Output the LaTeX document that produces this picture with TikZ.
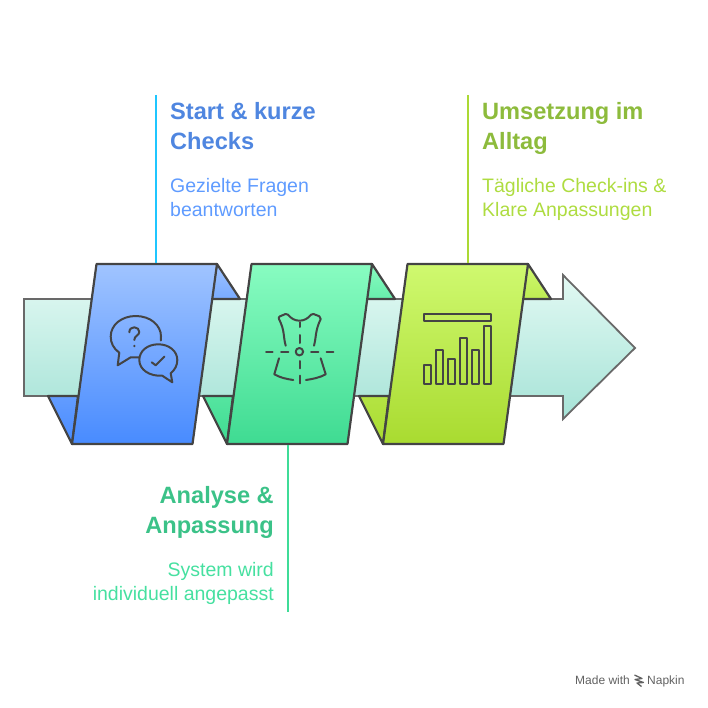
\documentclass[tikz,border=0pt]{standalone}
\usepackage{fontspec}
\setmainfont{Liberation Sans}
\definecolor{inkline}{HTML}{444444}
\definecolor{bandtop}{HTML}{E2F9F3}
\definecolor{bandbot}{HTML}{A6E3D7}
\definecolor{bluetop}{HTML}{A0C4FF}
\definecolor{bluebot}{HTML}{488BFF}
\definecolor{greentop}{HTML}{88FCC1}
\definecolor{greenbot}{HTML}{3FDB92}
\definecolor{limetop}{HTML}{CFF96F}
\definecolor{limebot}{HTML}{A9DB30}
\definecolor{bluehead}{HTML}{4F86E0}
\definecolor{greenhead}{HTML}{3BC288}
\definecolor{limehead}{HTML}{8DBB3C}
\definecolor{bluetext}{HTML}{5F9BFF}
\definecolor{greentext}{HTML}{46E0A0}
\definecolor{limetext}{HTML}{AEDC40}
\definecolor{blueleader}{HTML}{1FC6FF}
\definecolor{greenleader}{HTML}{3FDC98}
\definecolor{limeleader}{HTML}{ABD934}
\newcommand{\panel}[3]{% #1 = left foot x, #2 = top colour, #3 = bottom colour
  \fill[top color=#2, bottom color=#2!55!#3, draw=inkline, line width=2.2pt, line join=round]
    ({#1+145},264) -- ({#1+168},299) -- ({#1+138},299) -- cycle;
  \fill[top color=#2!30!#3, bottom color=#3, draw=inkline, line width=2.2pt, line join=round]
    ({#1-24},396) -- (#1,444) -- ({#1+6},396) -- cycle;
  \fill[top color=#2, bottom color=#3, draw=inkline, line width=2.2pt, line join=round]
    ({#1+24.5},264) -- ({#1+145},264) -- ({#1+120.5},444) -- (#1,444) -- cycle;}
\newcommand{\chartbar}[2]{\draw[icon] (#1,#2) rectangle ({#1+6.7},383.7);}
\tikzset{x=1pt, y=-1pt,
  icon/.style={draw=inkline, line width=2pt, line cap=round, line join=round},
  leader/.style={line width=1.8pt},
  headtext/.style={font=\fontsize{23.6}{30}\selectfont\bfseries, inner sep=0pt},
  subtext/.style={font=\fontsize{19.5}{24}\selectfont, inner sep=0pt},
  foottext/.style={font=\fontsize{12}{14}\selectfont, text=black!62, anchor=base west, inner sep=0pt}}
\begin{document}
\begin{tikzpicture}
\useasboundingbox (0,0) rectangle (708,708);

% ---- band and arrow head
\draw[top color=bandtop, bottom color=bandbot, draw=inkline!80, line width=1.8pt, line join=miter]
  (24,299) -- (563,299) -- (563,275) -- (635,348) -- (563,419) -- (563,396) -- (24,396) -- cycle;

% ---- panels
\panel{72}{bluetop}{bluebot}
\panel{227}{greentop}{greenbot}
\panel{383}{limetop}{limebot}

% ---- leaders
\coordinate (starttop) at (156,95);
\coordinate (startfoot) at (156,263);
\coordinate (analysetop) at (288,445);
\coordinate (analysefoot) at (288,612);
\coordinate (alltagtop) at (468,95);
\coordinate (alltagfoot) at (468,263);
\draw[leader, blueleader] (starttop) -- (startfoot);
\draw[leader, greenleader] (analysetop) -- (analysefoot);
\draw[leader, limeleader] (alltagtop) -- (alltagfoot);

% ---- texts
\node[headtext, text=bluehead, anchor=north west, align=left] (starthead) at (170,102) {Start \& kurze\\Checks};
\node[subtext, text=bluetext, anchor=north west, align=left] (startsub) at (170,178) {Gezielte Fragen\\beantworten};
\node[headtext, text=greenhead, anchor=north east, align=right] (analysehead) at (274,486) {Analyse \&\\Anpassung};
\node[subtext, text=greentext, anchor=north east, align=right] (analysesub) at (274,562) {System wird\\individuell angepasst};
\node[headtext, text=limehead, anchor=north west, align=left] (alltaghead) at (482,102) {Umsetzung im\\Alltag};
\node[subtext, text=limetext, anchor=north west, align=left] (alltagsub) at (482,178) {Tägliche Check-ins \&\\Klare Anpassungen};

% ---- speech bubbles
\draw[icon] (119.3,352.7) .. controls (113.5,348.5) and (110.7,343) .. (110.7,336.5)
  .. controls (110.7,325) and (121.5,316) .. (135.8,316)
  .. controls (150,316) and (161,325) .. (161,336.5) .. controls (161,338) and (161,339) .. (160.8,340.5);
\draw[icon] (119.3,352.7) -- (117.7,365.3) -- (130.7,357.3) -- (139.3,357.3);
\draw[icon] (162.3,375.7) .. controls (150,376.5) and (139.3,370) .. (139.3,360)
  .. controls (139.3,351) and (147.5,344.3) .. (158.3,344.3)
  .. controls (169,344.3) and (177.3,351) .. (177.3,360)
  .. controls (177.3,365.5) and (174.8,370) .. (170.7,373.3) -- (172.3,382.3) -- cycle;
\draw[icon] (151.7,362.3) -- (155.7,365.3) -- (164.3,356.7);
\draw[icon] (129.3,332.3) .. controls (129.3,329) and (131.5,327.3) .. (134.3,327.3)
  .. controls (137.3,327.3) and (139.3,329.5) .. (139.3,332)
  .. controls (139.3,335.5) and (134.3,335.5) .. (134.3,340);
\fill[inkline] (134.3,346) circle (1.3);

% ---- dress
\draw[icon] (285.7,345.7) .. controls (283,336) and (285,331) .. (279,319)
  .. controls (278.5,317.5) and (279,317) .. (280,316.3) -- (285.5,314)
  .. controls (286.5,313.6) and (287.3,314) .. (288,314.7)
  .. controls (291,318.5) and (295,320.7) .. (299.5,320.7)
  .. controls (304,320.7) and (308,318.5) .. (311,314.7)
  .. controls (311.7,314) and (312.5,313.6) .. (313.5,314) -- (319.4,316.3)
  .. controls (320.5,317) and (321,317.5) .. (320.7,319)
  .. controls (315,331) and (316.5,336) .. (314,345.7);
\draw[icon] (279,358.3) -- (274.3,374.3) .. controls (280,377.5) and (286,379) .. (293.3,380);
\draw[icon] (320.7,358.3) -- (325.7,374.3) .. controls (320,377.5) and (313,379) .. (306,380);
\draw[icon] (299.5,322.3) -- (299.5,327) (299.5,335) -- (299.5,343)
  (299.5,361) -- (299.5,368.3) (299.5,375.7) -- (299.5,383.3);
\draw[icon] (266,351.7) -- (272.7,351.7) (281,351.7) -- (288.3,351.7)
  (311,351.7) -- (318.3,351.7) (326.7,351.7) -- (333.3,351.7);
\draw[icon] (299.4,351.7) circle (3.7);

% ---- chart
\draw[icon] (424,314.3) rectangle (490.7,320.7);
\chartbar{424}{365}
\chartbar{436}{350.3}
\chartbar{448}{359.3}
\chartbar{460}{338.3}
\chartbar{472}{350.3}
\chartbar{484}{326.3}

% ---- footer
\node[foottext] (madewith) at (575,684.5) {Made with};
\node[foottext] (napkin) at (647,684.5) {Napkin};
\draw[black!62, line width=1.3pt, line join=round] (634.5,675) -- (642,678.5) -- (635,679.5) -- (643.5,682.5) -- (637,683) -- (641.5,686.5);
\end{tikzpicture}
\end{document}
